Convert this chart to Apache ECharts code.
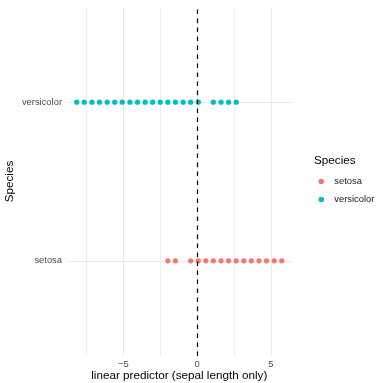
<!DOCTYPE html>
<html>
<head>
<meta charset="utf-8">
<script src="https://cdn.jsdelivr.net/npm/echarts@6/dist/echarts.min.js"></script>
<style>
html,body{margin:0;padding:0;background:#fff;}
#c{width:377px;height:383px;}
</style>
</head>
<body>
<div id="c"></div>
<script>
// Categories (y axis, bottom to top)
var species = ['setosa', 'versicolor'];
// Linear predictor values (sepal length only), one point per distinct value
var setosaPred = [5.73, 5.22, 4.70, 4.19, 3.67, 3.16, 2.65, 2.13, 1.62, 1.10, 0.59, 0.08, -0.44, -1.47, -1.98];
var versicolorPred = [2.65, 2.13, 1.62, 1.10, 0.08, -0.44, -0.95, -1.47, -1.98, -2.50, -3.01, -3.52, -4.04, -4.55, -5.07, -5.58, -6.09, -6.61, -7.12, -7.64, -8.15];
// Tick values
var xMajorTicks = [-5, 0, 5];
var xGridTicks = [-7.5, -5, -2.5, 0, 2.5, 5];
var yTicks = [1, 2];
var refLine = 0;

var colors = {setosa: '#F8766D', versicolor: '#00BFC4'};
var FONT = '"Liberation Sans", Arial, sans-serif';

function pts(vals, idx) {
  return vals.map(function (v) { return [v, idx]; });
}

var chart = echarts.init(document.getElementById('c'), null, {renderer: 'canvas'});
chart.setOption({
  animation: false,
  backgroundColor: '#ffffff',
  textStyle: {fontFamily: FONT},
  grid: {left: 66.5, right: 85, top: 7, bottom: 27, containLabel: false, outerBoundsMode: 'none'},
  title: {
    text: 'Species', left: 309, top: 150,
    textStyle: {fontFamily: FONT, fontSize: 11.7, fontWeight: 'normal', color: '#000'}
  },
  legend: {
    orient: 'vertical', left: 313.5, top: 172,
    icon: 'circle', itemWidth: 16, itemHeight: 5.5, itemGap: 9,
    textStyle: {fontFamily: FONT, fontSize: 9.4, color: '#1a1a1a'},
    data: species
  },
  xAxis: {
    type: 'value', min: -8.843, max: 6.423,
    name: 'linear predictor (sepal length only)', nameLocation: 'middle', nameGap: 14,
    nameMoveOverlap: false,
    nameTextStyle: {fontFamily: FONT, fontSize: 11.7, color: '#000'},
    axisLine: {show: false},
    axisTick: {show: false, customValues: xGridTicks},
    axisLabel: {
      customValues: xMajorTicks, margin: 3.5, fontFamily: FONT, fontSize: 9.4, color: '#4D4D4D',
      formatter: function (v) { return v < 0 ? '\u2212' + Math.abs(v) : String(v); }
    },
    splitLine: {show: true, lineStyle: {color: ['#EEEEEE', '#EBEBEB'], width: 1}}
  },
  yAxis: {
    type: 'value', min: 0.4, max: 2.6,
    name: 'Species', nameLocation: 'middle', nameGap: 51, nameRotate: 90,
    nameMoveOverlap: false,
    nameTextStyle: {fontFamily: FONT, fontSize: 11.7, color: '#000'},
    axisLine: {show: false},
    axisTick: {show: false, customValues: yTicks},
    axisLabel: {
      customValues: yTicks, margin: 4.5, fontFamily: FONT, fontSize: 9.4, color: '#4D4D4D',
      formatter: function (v) { return species[Math.round(v) - 1]; }
    },
    splitLine: {show: true, lineStyle: {color: '#EBEBEB', width: 1}}
  },
  series: [
    {
      name: 'setosa', type: 'scatter', symbol: 'circle', symbolSize: 5.2,
      itemStyle: {color: colors.setosa, opacity: 1},
      data: pts(setosaPred, 1),
      z: 3
    },
    {
      name: 'versicolor', type: 'scatter', symbol: 'circle', symbolSize: 5.2,
      itemStyle: {color: colors.versicolor, opacity: 1},
      data: pts(versicolorPred, 2),
      z: 3,
      markLine: {
        silent: true, symbol: 'none', label: {show: false},
        lineStyle: {color: '#000', type: [4.5, 4.5], width: 1.2},
        data: [{xAxis: refLine}],
        z: 4
      }
    }
  ]
});
</script>
</body>
</html>
